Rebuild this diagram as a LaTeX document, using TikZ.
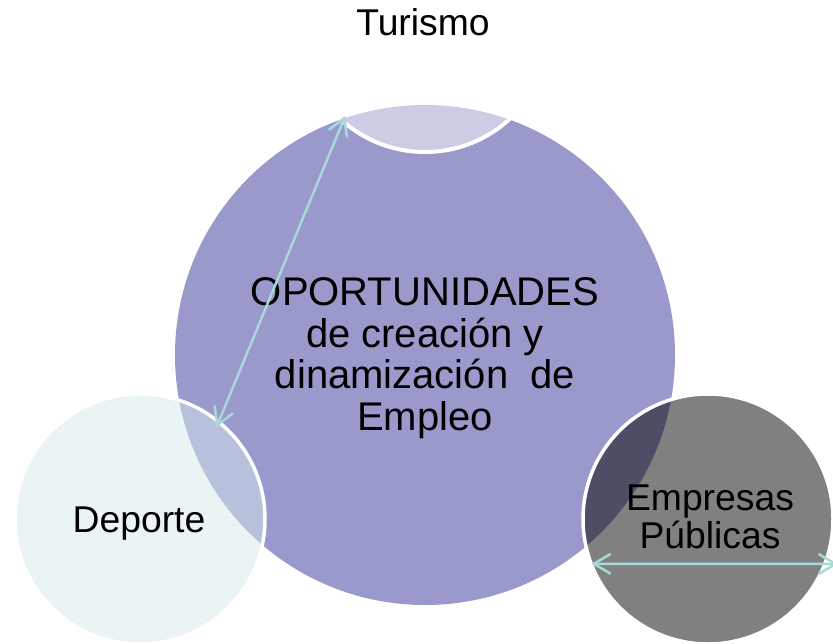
\documentclass[tikz,border=0pt]{standalone}
\usepackage{fontspec}
\setmainfont{Liberation Sans}
\usetikzlibrary{arrows.meta}
\definecolor{bigc}{HTML}{9999CC}
\definecolor{depc}{RGB}{214,233,234}
\definecolor{empc}{HTML}{808080}
\definecolor{ovl}{HTML}{4D4D66}
\definecolor{arrc}{RGB}{168,216,216}
\begin{document}
\begin{tikzpicture}[x=1pt,y=-1pt,
  circ/.style={circle, minimum size=250pt, inner sep=0pt, outer sep=0pt},
  lbl/.style={font=\fontsize{37.3}{38}\selectfont, align=center, inner sep=0pt},
  conn/.style={draw=arrc, line width=2.5pt, {Straight Barb[length=17pt,width=20pt]}-{Straight Barb[length=17pt,width=20pt]}}]
\useasboundingbox (0,0) rectangle (833,643);
\clip (0,0) rectangle (833,643);
\node[circ, minimum size=500pt, fill=bigc] (main) at (425,355) {};
\node[circ, fill=white, fill opacity=0.5, draw=white, line width=4pt] (tur) at (425,27) {};
\node[circ, fill=depc, fill opacity=0.5, draw=white, line width=3.5pt] (dep) at (140,519) {};
\node[circ, fill=empc] (emp) at (708,519) {};
\begin{scope}
  \clip (emp.center) circle[radius=125pt];
  \fill[ovl] (main.center) circle[radius=250pt];
\end{scope}
\draw[white, line width=3.5pt] (emp.center) circle[radius=125pt];
\node[lbl, font=\fontsize{40}{41.5}\selectfont] (mtxt) at (425,358) {OPORTUNIDADES\\de creación y\\dinamización\ \ de\\Empleo};
\node[lbl, anchor=base] (turt) at (423,35) {Turismo};
\node[lbl, anchor=base] (dept) at (139,532) {Deporte};
\node[lbl] (empt) at (710,517) {Empresas\\Públicas};
\draw[conn, shorten <=-6pt, shorten >=-6pt] (dep.51) -- (tur.229);
\coordinate (rend) at (838,564);
\draw[conn] (emp.201) -- (rend);
\end{tikzpicture}
\end{document}
